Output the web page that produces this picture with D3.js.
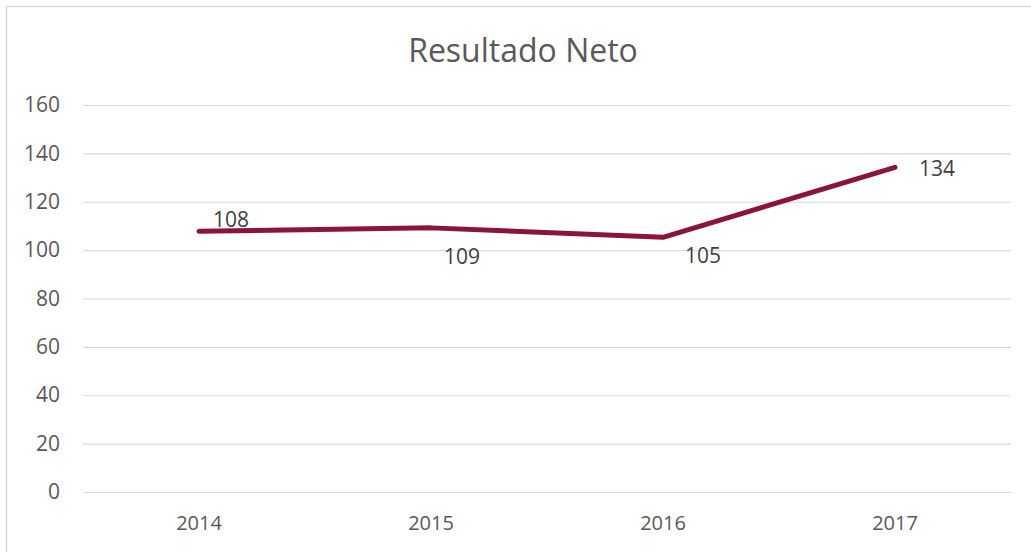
<!DOCTYPE html>
<html>
<head>
<meta charset="utf-8">
<script src="https://cdn.jsdelivr.net/npm/d3@7"></script>
<style>
  html, body { margin: 0; padding: 0; background: #fff; }
  svg { display: block; font-family: "Open Sans", sans-serif; }
</style>
</head>
<body>
<div id="chart"></div>
<script>
const years = ["2014", "2015", "2016", "2017"];
const resultado = [107.8, 109.2, 105.3, 134.2];
const labels = ["108", "109", "105", "134"];
const yTicks = [0, 20, 40, 60, 80, 100, 120, 140, 160];

// decalage des etiquettes (comme dans Excel)
const labelDx = [14, 13, 22, 24];
const labelDy = [-12, 29, 18, 1];

const width = 1031;
const height = 552;
const margin = { top: 105, right: 20, bottom: 60, left: 83 };
const innerWidth = width - margin.left - margin.right;
const innerHeight = height - margin.top - margin.bottom;

const svg = d3.select("#chart")
  .append("svg")
  .attr("width", width)
  .attr("height", height);

// cadre (seuls le haut et la gauche sont visibles)
svg.append("path")
  .attr("d", `M6.5,${height}V6.5H${width}`)
  .attr("fill", "none")
  .attr("stroke", "#d9d9d9")
  .attr("stroke-width", 1.5);

svg.append("text")
  .attr("x", 523)
  .attr("y", 62)
  .attr("text-anchor", "middle")
  .attr("font-size", 32)
  .attr("fill", "#595959")
  .text("Resultado Neto");

const g = svg.append("g")
  .attr("transform", `translate(${margin.left},${margin.top})`);

const x = d3.scaleBand()
  .domain(years)
  .range([0, innerWidth]);

const y = d3.scaleLinear()
  .domain([0, 160])
  .range([innerHeight, 0]);

// grille + axe Y
const yAxis = g.append("g")
  .call(d3.axisLeft(y).tickValues(yTicks).tickSize(-innerWidth).tickPadding(23))
  .attr("font-family", "Open Sans, sans-serif")
  .attr("font-size", 21);
yAxis.select(".domain").remove();
yAxis.selectAll("line").attr("stroke", "#d9d9d9").attr("stroke-width", 1.2);
yAxis.selectAll("text").attr("fill", "#595959");

// axe X
const xAxis = g.append("g")
  .attr("transform", `translate(0,${innerHeight})`)
  .call(d3.axisBottom(x).tickSize(0).tickPadding(24))
  .attr("font-family", "Open Sans, sans-serif")
  .attr("font-size", 20);
xAxis.select(".domain").remove();
xAxis.selectAll("text").attr("fill", "#595959");

const pts = years.map((yr, i) => ({ year: yr, value: resultado[i], label: labels[i], i }));

const line = d3.line()
  .x(d => x(d.year) + x.bandwidth() / 2)
  .y(d => y(d.value));

g.append("path")
  .datum(pts)
  .attr("d", line)
  .attr("fill", "none")
  .attr("stroke", "#8a1538")
  .attr("stroke-width", 5)
  .attr("stroke-linecap", "round")
  .attr("stroke-linejoin", "round");

g.selectAll(".lbl")
  .data(pts)
  .enter()
  .append("text")
  .attr("class", "lbl")
  .attr("x", d => x(d.year) + x.bandwidth() / 2 + labelDx[d.i])
  .attr("y", d => y(d.value) + labelDy[d.i])
  .attr("dy", "0.35em")
  .attr("font-size", 21)
  .attr("fill", "#404040")
  .text(d => d.label);
</script>
</body>
</html>
